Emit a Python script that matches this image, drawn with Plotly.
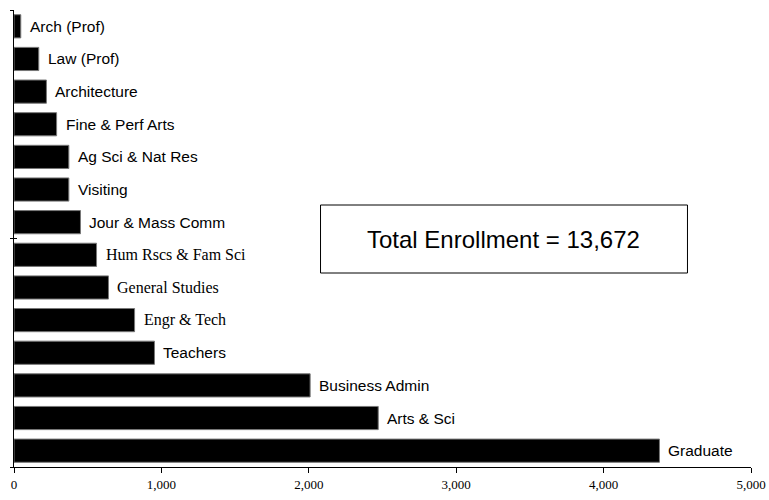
import plotly.graph_objects as go

categories = ["Arch (Prof)", "Law (Prof)", "Architecture", "Fine & Perf Arts",
              "Ag Sci & Nat Res", "Visiting", "Jour & Mass Comm",
              "Hum Rscs & Fam Sci", "General Studies", "Engr & Tech",
              "Teachers", "Business Admin", "Arts & Sci", "Graduate"]
enrollment = [46, 168, 220, 289, 372, 372, 451, 560, 641, 818, 953, 2009, 2471, 4379]
serif_labels = ["Hum Rscs & Fam Sci", "General Studies", "Engr & Tech"]
x_ticks = [0, 1000, 2000, 3000, 4000, 5000]
total_text = "Total Enrollment = 13,672"

SANS = "Liberation Sans, Arial, sans-serif"
SERIF = "Liberation Serif, Times New Roman, serif"

n = len(categories)

fig = go.Figure()
fig.add_trace(go.Bar(
    x=enrollment, y=categories, orientation="h",
    marker=dict(color="black", line=dict(color="#777777", width=1)),
    hoverinfo="x+y", showlegend=False,
))
# empty traces so that the overlay axes carrying the cross ticks are drawn
fig.add_trace(go.Scatter(x=[], y=[], yaxis="y2", showlegend=False, hoverinfo="skip"))
fig.add_trace(go.Scatter(x=[], y=[], yaxis="y3", showlegend=False, hoverinfo="skip"))

annotations = []
for c, v in zip(categories, enrollment):
    serif = c in serif_labels
    annotations.append(dict(
        x=v, y=c, xref="x", yref="y", text=c, showarrow=False,
        xanchor="left", yanchor="middle", xshift=7,
        font=dict(family=SERIF if serif else SANS, size=16 if serif else 15.5, color="black"),
    ))
annotations.append(dict(
    x=0.664, y=0.4989, xref="paper", yref="paper", text=total_text,
    showarrow=False, xanchor="center", yanchor="middle",
    font=dict(family=SANS, size=24, color="black"),
))

fig.update_layout(
    width=769, height=500,
    margin=dict(l=14, r=18, t=10, b=33, autoexpand=False),
    paper_bgcolor="white", plot_bgcolor="white",
    bargap=0.29,
    annotations=annotations,
    shapes=[dict(type="rect", xref="paper", yref="paper",
                 x0=0.4159, x1=0.9138, y0=0.4245, y1=0.5733,
                 line=dict(color="black", width=1), fillcolor="rgba(0,0,0,0)")],
    xaxis=dict(range=[0, 5000], tickvals=x_ticks, tickformat=",",
               ticks="outside", ticklen=5, tickcolor="black",
               showline=True, linecolor="black", linewidth=1,
               showgrid=False, zeroline=False, automargin=False,
               tickfont=dict(family=SERIF, size=13, color="black")),
    yaxis=dict(type="category", categoryorder="array", categoryarray=categories,
               autorange="reversed", showticklabels=False, ticks="",
               showline=True, linecolor="black", linewidth=1,
               showgrid=False, zeroline=False, automargin=False),
    yaxis2=dict(overlaying="y", anchor="x", range=[n - 0.5, -0.5],
                tickvals=[-0.5, 6.5, n - 0.5], ticks="outside", ticklen=3,
                tickcolor="black", showticklabels=False, showline=False,
                showgrid=False, zeroline=False, automargin=False),
    yaxis3=dict(overlaying="y", anchor="x", range=[n - 0.5, -0.5],
                tickvals=[-0.5, 6.5, n - 0.5], ticks="inside", ticklen=3,
                tickcolor="black", showticklabels=False, showline=False,
                showgrid=False, zeroline=False, automargin=False),
)

# remove the page's default body margin so the figure fills the window exactly
fig.write_html("out.html", config={"displayModeBar": False},
               post_script="document.body.style.margin='0';document.body.style.overflow='hidden';")
